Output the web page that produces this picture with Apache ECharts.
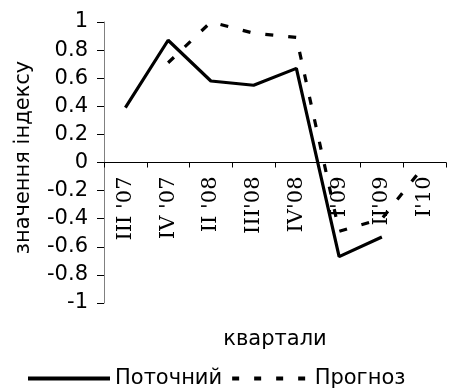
<!DOCTYPE html>
<html>
<head>
<meta charset="utf-8">
<script src="https://cdn.jsdelivr.net/npm/echarts@6/dist/echarts.min.js"></script>
<style>
  html, body { margin: 0; padding: 0; background: #fff; }
  #chart { width: 449px; height: 389px; }
</style>
</head>
<body>
<div id="chart"></div>
<script>
// Quarterly index values: current vs forecast
const quarters = ["III '07", "IV '07", "II '08", "III'08", "IV'08", "I'09", "II'09", "I'10"];
const currentValues = [0.39, 0.87, 0.58, 0.55, 0.67, -0.67, -0.53, null];
const forecastValues = [null, 0.71, 1.0, 0.92, 0.89, -0.49, -0.40, -0.02];
const seriesNames = ["Поточний", "Прогноз"];

const sans = "DejaVu Sans";
const serif = "DejaVu Serif";

// plot box
const GRID_TOP = 22;
const GRID_BOTTOM = 86;
const CHART_H = 389;
// the category axis sits on the value 0, halfway up the symmetric -1..1 range
const zeroOffset = -(CHART_H - GRID_TOP - GRID_BOTTOM) / 2;

// legend glyphs: a solid bar and a row of four dashes
const solidIcon = 'path://M0,0h82v4h-82z';
const dashedIcon = 'path://M0,0h7v4h-7z M22,0h7v4h-7z M44,0h7v4h-7z M66,0h7v4h-7z';

const chart = echarts.init(document.getElementById('chart'), null, { renderer: 'canvas' });

chart.setOption({
  animation: false,
  backgroundColor: '#ffffff',
  grid: { left: 104, right: 3, top: GRID_TOP, bottom: GRID_BOTTOM, containLabel: false, outerBoundsMode: 'none' },
  legend: {
    left: 23,
    top: 363,
    itemWidth: 82,
    itemHeight: 4,
    itemGap: 10,
    textStyle: { fontFamily: sans, fontSize: 21, color: '#000' },
    data: [
      { name: seriesNames[0], icon: solidIcon },
      { name: seriesNames[1], icon: dashedIcon }
    ]
  },
  xAxis: {
    type: 'category',
    data: quarters,
    boundaryGap: true,
    position: 'bottom',
    offset: zeroOffset,
    name: 'квартали',
    nameLocation: 'middle',
    nameGap: 167,
    nameMoveOverlap: false,
    nameTextStyle: { fontFamily: sans, fontSize: 21, color: '#000' },
    axisLine: { onZero: false, lineStyle: { color: '#000', width: 1 } },
    axisTick: { show: true, length: 5, inside: false, lineStyle: { color: '#000' } },
    axisLabel: {
      rotate: 90,
      margin: 14,
      fontFamily: serif,
      fontSize: 21,
      color: '#000'
    },
    splitLine: { show: false }
  },
  yAxis: {
    type: 'value',
    min: -1,
    max: 1,
    interval: 0.2,
    name: 'значення індексу',
    nameLocation: 'middle',
    nameRotate: 90,
    nameGap: 70,
    nameMoveOverlap: false,
    nameTextStyle: { fontFamily: sans, fontSize: 21, color: '#000', padding: [0, 0, 0, 10] },
    axisLine: { show: true, lineStyle: { color: '#808080', width: 1 } },
    axisTick: { show: true, length: 7, lineStyle: { color: '#000' } },
    axisLabel: {
      margin: 16,
      fontFamily: sans,
      fontSize: 21,
      color: '#000',
      formatter: v => String(+v.toFixed(1))
    },
    splitLine: { show: false }
  },
  series: [
    {
      name: seriesNames[0],
      type: 'line',
      data: currentValues,
      symbol: 'none',
      connectNulls: false,
      lineStyle: { color: '#000', width: 3.2, type: 'solid' },
      itemStyle: { color: '#000' }
    },
    {
      name: seriesNames[1],
      type: 'line',
      data: forecastValues,
      symbol: 'none',
      connectNulls: false,
      lineStyle: { color: '#000', width: 3.2, type: [8, 15] },
      itemStyle: { color: '#000' }
    }
  ]
});
</script>
</body>
</html>
